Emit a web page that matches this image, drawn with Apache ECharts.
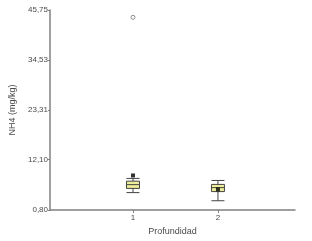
<!DOCTYPE html>
<html><head><meta charset="utf-8">
<script src="https://cdn.jsdelivr.net/npm/echarts@6/dist/echarts.min.js"></script>
<style>html,body{margin:0;padding:0;background:#fff}#c{width:312px;height:241px}</style>
</head><body><div id="c"></div>
<script>
var categories = [1, 2];
var boxMin = [4.71, 2.88];
var boxQ1 = [5.65, 4.94];
var boxMedian = [6.50, 5.83];
var boxQ3 = [7.28, 6.55];
var boxMax = [7.90, 7.44];
var means = [8.56, 5.43];
var outliers = [[1, 44.1]];
var yTicks = [0.80, 12.10, 23.31, 34.53, 45.75];

var boxData = categories.map(function (c, i) {
  return [c, boxMin[i], boxQ1[i], boxMedian[i], boxQ3[i], boxMax[i]];
});
var meanData = categories.map(function (c, i) { return [c, means[i]]; });

var chart = echarts.init(document.getElementById('c'));
var txt = '#4a4a4a';
chart.setOption({
  animation: false,
  grid: {left: 47, right: 17, top: 10, bottom: 30},
  xAxis: {
    type: 'value', min: 0.023, max: 2.907,
    name: 'Profundidad', nameLocation: 'middle', nameGap: 17,
    nameTextStyle: {fontFamily: 'Liberation Sans', fontSize: 9, color: txt},
    axisLine: {lineStyle: {color: '#808080', width: 1.5}},
    axisTick: {show: true, length: 3, customValues: categories, lineStyle: {color: '#808080'}},
    axisLabel: {customValues: categories, fontFamily: 'Liberation Sans', fontSize: 8, color: txt, margin: 4},
    splitLine: {show: false}
  },
  yAxis: {
    type: 'value', min: 0.80, max: 45.75,
    name: 'NH4 (mg/kg)', nameLocation: 'middle', nameGap: 33, nameRotate: 90,
    nameTextStyle: {fontFamily: 'Liberation Sans', fontSize: 9, color: txt},
    axisLine: {show: true, lineStyle: {color: '#808080', width: 1.5}},
    axisTick: {show: true, length: 2, customValues: yTicks, lineStyle: {color: '#808080'}},
    axisLabel: {customValues: yTicks, fontFamily: 'Liberation Sans', fontSize: 8, color: txt, margin: 2,
      formatter: function (v) { return v.toFixed(2).replace('.', ','); }},
    splitLine: {show: false}
  },
  series: [
    {type: 'boxplot', data: boxData, boxWidth: [13, 13],
      itemStyle: {color: '#eeee9a', borderColor: '#444', borderWidth: 1}},
    {type: 'scatter', data: meanData, symbol: 'rect', symbolSize: 4,
      itemStyle: {color: '#000'}, z: 5},
    {type: 'scatter', data: outliers, symbol: 'circle', symbolSize: 4,
      itemStyle: {color: '#fff', borderColor: '#777', borderWidth: 1}, z: 5}
  ]
});
</script></body></html>
